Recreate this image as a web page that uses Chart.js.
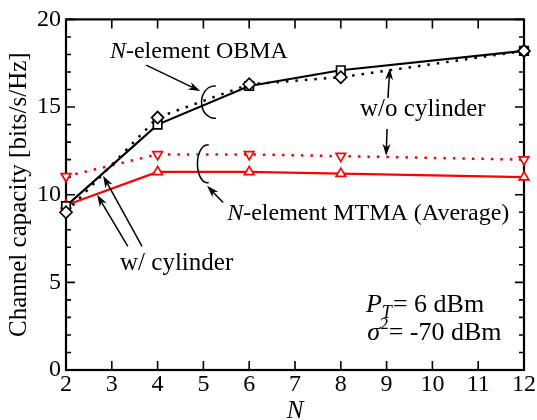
<!DOCTYPE html>
<html>
<head>
<meta charset="utf-8">
<script src="https://cdn.jsdelivr.net/npm/chart.js@4"></script>
<style>
html,body{margin:0;padding:0;background:#fff;}
canvas{display:block;}
</style>
</head>
<body>
<canvas id="c" width="537" height="420"></canvas>
<script>
// ---- data ----
const N = [2, 4, 6, 8, 12];
const obmaWithCyl = [9.35, 14.0, 16.2, 17.1, 18.2];
const obmaWithoutCyl = [9.0, 14.4, 16.3, 16.7, 18.2];
const mtmaWithCyl = [9.4, 11.3, 11.3, 11.2, 11.0];
const mtmaWithoutCyl = [11.05, 12.3, 12.3, 12.2, 12.0];
const xTickValues = [2, 3, 4, 5, 6, 7, 8, 9, 10, 11, 12];
const yTickValues = [0, 5, 10, 15, 20];
const yMinorTickValues = [0,1,2,3,4,5,6,7,8,9,10,11,12,13,14,15,16,17,18,19,20];

const FONT = "'Liberation Serif', 'DejaVu Serif', serif";
const pts = (ys) => N.map((n, i) => ({x: n, y: ys[i]}));

// annotation anchors in data units
const ann = {
  obmaText: {x: 2.96, y: 17.8},
  obmaArrow: {from: {x: 3.75, y: 17.39}, to: {x: 4.93, y: 15.91}},
  arc1: {x: 5.24, y: 15.28, rx: 0.28, ry: 0.92},
  arc2: {x: 5.09, y: 11.76, rx: 0.22, ry: 1.08},
  mtmaArrow: {from: {x: 5.43, y: 9.55}, to: {x: 5.08, y: 10.51}},
  mtmaText: {x: 5.52, y: 8.58},
  withText: {x: 3.18, y: 5.68},
  withArrowA: {from: {x: 3.35, y: 7.05}, to: {x: 2.68, y: 10.0}},
  withArrowB: {from: {x: 3.66, y: 7.05}, to: {x: 2.81, y: 11.08}},
  withoutText: {x: 8.42, y: 14.49},
  withoutUp: {from: {x: 9.03, y: 15.51}, to: {x: 9.07, y: 17.22}},
  withoutDown: {from: {x: 9.01, y: 13.75}, to: {x: 8.99, y: 12.22}},
  ptText: {x: 8.55, y: 3.30},
  sigmaText: {x: 8.58, y: 1.70}
};

const framePlugin = {
  id: 'frame',
  beforeDatasetsDraw(chart) {
    const {ctx, chartArea: a, scales: {x, y}} = chart;
    ctx.save();
    ctx.strokeStyle = '#000';
    ctx.lineWidth = 2.2;
    ctx.strokeRect(a.left, a.top, a.right - a.left, a.bottom - a.top);
    ctx.lineWidth = 1.6;
    ctx.beginPath();
    xTickValues.forEach(v => {
      const px = x.getPixelForValue(v);
      ctx.moveTo(px, a.bottom); ctx.lineTo(px, a.bottom - 9);
      ctx.moveTo(px, a.top); ctx.lineTo(px, a.top + 9);
    });
    yMinorTickValues.forEach(v => {
      const py = y.getPixelForValue(v);
      const len = (v % 5 === 0) ? 9 : 5;
      ctx.moveTo(a.left, py); ctx.lineTo(a.left + len, py);
      ctx.moveTo(a.right, py); ctx.lineTo(a.right - len, py);
    });
    ctx.stroke();
    ctx.restore();
  }
};

function arrow(ctx, x1, y1, x2, y2) {
  const ang = Math.atan2(y2 - y1, x2 - x1);
  const L = 12, W = 4, notch = 3.5;
  const bx = x2 - L * Math.cos(ang), by = y2 - L * Math.sin(ang);
  const nx = x2 - (L - notch) * Math.cos(ang), ny = y2 - (L - notch) * Math.sin(ang);
  ctx.beginPath();
  ctx.moveTo(x1, y1);
  ctx.lineTo(nx, ny);
  ctx.stroke();
  ctx.beginPath();
  ctx.moveTo(x2, y2);
  ctx.lineTo(bx + W * Math.sin(ang), by - W * Math.cos(ang));
  ctx.lineTo(nx, ny);
  ctx.lineTo(bx - W * Math.sin(ang), by + W * Math.cos(ang));
  ctx.closePath();
  ctx.fill();
}

function runs(ctx, x, y, parts) {
  let cx = x;
  parts.forEach(p => {
    ctx.font = (p.italic ? 'italic ' : '') + (p.size || 24) + 'px ' + FONT;
    ctx.fillText(p.t, cx + (p.dx || 0), y + (p.dy || 0));
    cx += ctx.measureText(p.t).width + (p.dx || 0) + (p.after || 0);
  });
}

const annPlugin = {
  id: 'ann',
  afterDatasetsDraw(chart) {
    const {ctx, scales: {x, y}} = chart;
    const X = v => x.getPixelForValue(v), Y = v => y.getPixelForValue(v);
    ctx.save();
    ctx.fillStyle = '#000';
    ctx.strokeStyle = '#000';
    ctx.lineWidth = 1.5;
    ctx.textBaseline = 'alphabetic';
    ctx.textAlign = 'left';
    const A = (o) => arrow(ctx, X(o.from.x), Y(o.from.y), X(o.to.x), Y(o.to.y));
    A(ann.obmaArrow); A(ann.mtmaArrow); A(ann.withArrowA); A(ann.withArrowB);
    A(ann.withoutUp); A(ann.withoutDown);
    [ann.arc1, ann.arc2].forEach(c => {
      const cx = X(c.x), cy = Y(c.y);
      const rx = X(c.x + c.rx) - cx, ry = cy - Y(c.y + c.ry);
      ctx.beginPath();
      ctx.ellipse(cx, cy, rx, ry, 0, Math.PI / 2 - 0.12, 3 * Math.PI / 2 + 0.12);
      ctx.stroke();
    });
    runs(ctx, X(ann.obmaText.x), Y(ann.obmaText.y), [{t: 'N', italic: true}, {t: '-element OBMA'}]);
    runs(ctx, X(ann.mtmaText.x), Y(ann.mtmaText.y), [{t: 'N', italic: true}, {t: '-element MTMA (Average)'}]);
    runs(ctx, X(ann.withText.x), Y(ann.withText.y), [{t: 'w/ cylinder', size: 25}]);
    runs(ctx, X(ann.withoutText.x), Y(ann.withoutText.y), [{t: 'w/o cylinder', size: 25}]);
    runs(ctx, X(ann.ptText.x), Y(ann.ptText.y), [{t: 'P', italic: true, size: 26}, {t: 'T', italic: true, size: 18, dy: 6, after: 1}, {t: '= 6 dBm', size: 26}]);
    runs(ctx, X(ann.sigmaText.x), Y(ann.sigmaText.y), [{t: 'σ', italic: true, size: 26}, {t: '2', size: 17, dy: -11}, {t: '= -70 dBm', size: 26}]);
    ctx.restore();
  }
};

const common = {fill: false, tension: 0, clip: false, pointBackgroundColor: '#fff', pointBorderWidth: 1.7};

new Chart(document.getElementById('c'), {
  type: 'line',
  data: {
    datasets: [
      Object.assign({label: 'OBMA w/o cylinder', data: pts(obmaWithoutCyl), borderColor: '#000', borderWidth: 2.5, borderDash: [2.5, 7],
        pointStyle: 'rectRot', pointRadius: 6, pointBorderColor: '#000'}, common),
      Object.assign({label: 'OBMA w/ cylinder', data: pts(obmaWithCyl), borderColor: '#000', borderWidth: 2.2,
        pointStyle: 'rect', pointRadius: 6, pointBorderColor: '#000'}, common),
      Object.assign({label: 'MTMA w/o cylinder', data: pts(mtmaWithoutCyl), borderColor: '#ff0000', borderWidth: 2.5, borderDash: [2.5, 7],
        pointStyle: 'triangle', pointRotation: 180, pointRadius: 5.5, pointBorderColor: '#ff0000'}, common),
      Object.assign({label: 'MTMA w/ cylinder', data: pts(mtmaWithCyl), borderColor: '#ff0000', borderWidth: 2.2,
        pointStyle: 'triangle', pointRadius: 5.5, pointBorderColor: '#ff0000'}, common)
    ]
  },
  options: {
    responsive: false,
    animation: false,
    events: [],
    layout: {padding: {top: 18, right: 13, left: 0, bottom: 0}},
    plugins: {legend: {display: false}, tooltip: {enabled: false}},
    scales: {
      x: {
        type: 'linear', min: 2, max: 12,
        afterFit: s => { s.height = 50; },
        afterBuildTicks: s => { s.ticks = xTickValues.map(v => ({value: v})); },
        grid: {display: false, drawTicks: false}, border: {display: false},
        ticks: {color: '#000', padding: 0, maxRotation: 0, autoSkip: false, font: {family: FONT, size: 24}},
        title: {display: true, text: 'N', color: '#000', font: {family: FONT, size: 25, style: 'italic', lineHeight: 1}, padding: {top: 0, bottom: -4}}
      },
      y: {
        type: 'linear', min: 0, max: 20,
        afterFit: s => { s.width = 66; },
        afterBuildTicks: s => { s.ticks = yTickValues.map(v => ({value: v})); },
        grid: {display: false, drawTicks: false}, border: {display: false},
        ticks: {color: '#000', padding: 5, font: {family: FONT, size: 24}},
        title: {display: true, text: 'Channel capacity [bits/s/Hz]', color: '#000', font: {family: FONT, size: 25, lineHeight: 1}, padding: {top: 7, bottom: 0}}
      }
    }
  },
  plugins: [framePlugin, annPlugin]
});
</script>
</body>
</html>
